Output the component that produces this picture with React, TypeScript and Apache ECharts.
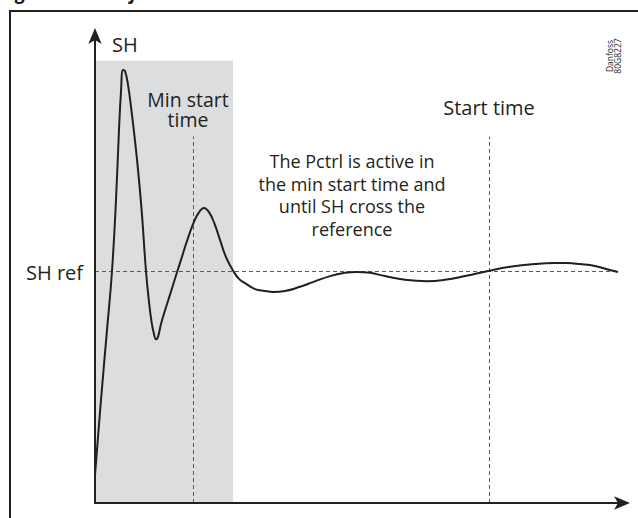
import React, { useEffect, useRef } from "react";
import * as echarts from "echarts";

// Time axis (arbitrary units, 0..100) and superheat (arbitrary units, 0..100)
const timeValues = [
  0, 1.14, 2.29, 3.24, 4.0, 4.57, 4.95, 5.33, 5.71, 6.29, 7.05, 7.81, 8.38, 8.95,
  9.71, 10.29, 10.8, 11.24, 11.62, 12.0, 12.57, 13.33, 14.29, 15.56, 16.38,
  17.47, 18.67, 19.62, 20.76, 21.71, 22.72, 23.81, 24.95, 26.34, 27.43, 28.57,
  30.48, 32.38, 33.9, 36.19, 39.05, 41.52, 44.76, 47.62, 49.9, 52.38, 55.24,
  59.05, 63.24, 66.67, 70.48, 74.86, 79.05, 83.81, 87.62, 89.9, 92.38, 95.24,
  98.1, 99.62,
];
const shValues = [
  6.0, 22.2, 37.3, 50.0, 65.3, 80.4, 88.6, 93.3, 93.1, 90.1, 83.6, 76.1, 69.6,
  62.1, 50.0, 43.3, 38.8, 36.4, 35.3, 35.8, 38.6, 41.5, 44.9, 49.5, 52.4, 56.3,
  60.1, 62.3, 63.6, 62.7, 60.3, 56.7, 53.0, 50.0, 48.3, 47.4, 46.1, 45.7, 45.5,
  45.7, 46.6, 47.6, 48.9, 49.6, 49.8, 49.6, 48.9, 48.1, 47.8, 48.1, 48.9, 50.0,
  50.9, 51.5, 51.7, 51.7, 51.5, 51.1, 50.2, 49.8,
];

const SH_REF = 50;
const MIN_START_TIME = 18.7;
const PCTRL_END = 26.3;
const START_TIME = 75;
const SHADE_TOP = 95.3;
const MARKER_TOP = 79;
const X_MAX = 100;
const Y_MAX = 100;

const INK = "#231f20";
const FONT = "'Open Sans', 'Noto Sans', sans-serif";

export default function App() {
  const ref = useRef<HTMLDivElement>(null);

  useEffect(() => {
    if (!ref.current) return;
    const chart = echarts.init(ref.current, undefined, { renderer: "svg" });
    const curve = timeValues.map((t, i) => [t, shValues[i]]);
    const dash = { color: "#5a5a5a", width: 1, type: [4, 3] as any };

    const axisCommon = {
      type: "value" as const,
      min: 0,
      z: 10,
      axisTick: { show: false },
      axisLabel: { show: false },
      splitLine: { show: false },
    };

    const txt = (x: number, y: number, style: any, extra: any = {}) => ({
      type: "text",
      x,
      y,
      z: 100,
      style: { fill: INK, ...style },
      ...extra,
    });

    chart.setOption({
      animation: false,
      backgroundColor: "#ffffff",
      grid: { left: 95, top: 39, width: 525, height: 464 },
      xAxis: {
        ...axisCommon,
        max: X_MAX,
        axisLine: {
          show: true,
          symbol: ["none", "arrow"],
          symbolSize: [10, 16],
          symbolOffset: [0, 10],
          lineStyle: { color: INK, width: 2 },
        },
      },
      yAxis: {
        ...axisCommon,
        max: Y_MAX,
        axisLine: {
          show: true,
          symbol: ["none", "arrow"],
          symbolSize: [10, 16],
          symbolOffset: [0, 11],
          lineStyle: { color: INK, width: 2 },
        },
      },
      series: [
        {
          type: "line",
          data: [],
          z: 1,
          silent: true,
          markArea: {
            silent: true,
            itemStyle: { color: "#dcdddf" },
            data: [[{ coord: [0, 0] }, { coord: [PCTRL_END, SHADE_TOP] }]],
          },
          markLine: {
            silent: true,
            symbol: "none",
            label: { show: false },
            lineStyle: dash,
            data: [
              [{ coord: [MIN_START_TIME, 0] }, { coord: [MIN_START_TIME, MARKER_TOP] }],
              [{ coord: [START_TIME, 0] }, { coord: [START_TIME, MARKER_TOP] }],
              [{ coord: [0, SH_REF] }, { coord: [X_MAX, SH_REF] }],
            ],
          },
        },
        {
          type: "line",
          data: curve,
          z: 5,
          smooth: 0.45,
          showSymbol: false,
          silent: true,
          lineStyle: { color: INK, width: 2 },
        },
      ],
      graphic: [
        {
          type: "rect",
          z: 100,
          shape: { x: 10, y: 11, width: 700, height: 600 },
          style: { fill: "none", stroke: INK, lineWidth: 2 },
        },
        txt(0, 1, {
          text: "Figure 10.6: Reference",
          font: `italic bold 19px ${FONT}`,
          align: "left",
          verticalAlign: "bottom",
        }),
        txt(112, 44.5, { text: "SH", font: `20px ${FONT}`, align: "left", verticalAlign: "middle" }),
        txt(188, 89.5, {
          text: "Min start\ntime",
          font: `19.5px ${FONT}`,
          lineHeight: 20,
          align: "center",
          verticalAlign: "top",
        }),
        txt(489, 107.5, { text: "Start time", font: `20px ${FONT}`, align: "center", verticalAlign: "middle" }),
        txt(352, 149.75, {
          text: "The Pctrl is active in\nthe min start time and\nuntil SH cross the\nreference",
          font: `18px ${FONT}`,
          lineHeight: 22.5,
          align: "center",
          verticalAlign: "top",
        }),
        txt(26, 272, { text: "SH ref", font: `20px ${FONT}`, align: "left", verticalAlign: "middle" }),
        txt(
          613,
          56,
          {
            text: "Danfoss\n80G8227",
            font: `8.5px ${FONT}`,
            lineHeight: 8,
            align: "center",
            verticalAlign: "middle",
          },
          { rotation: Math.PI / 2 }
        ),
      ],
    });
    return () => chart.dispose();
  }, []);

  return (
    <div
      ref={ref}
      style={{ position: "fixed", left: 0, top: 0, width: 638, height: 518 }}
    />
  );
}
